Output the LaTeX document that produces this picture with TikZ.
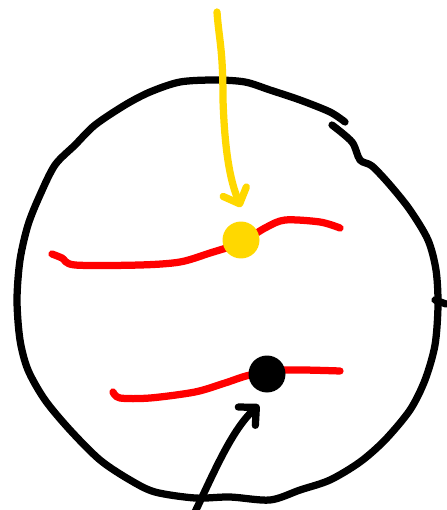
\documentclass[tikz,border=0pt]{standalone}
\usepackage{tikz}
\usetikzlibrary{arrows.meta,calc}
\definecolor{gold}{HTML}{FFD800}
\definecolor{redl}{HTML}{FF0000}
\tikzset{
  ink/.style={line width=0.145cm, line cap=round, line join=round},
  rim/.style={ink, draw=black},
  wire/.style={ink, draw=redl},
  dot/.style={circle, inner sep=0pt, minimum size=0.74cm},
  yarr/.style={ink, draw=gold, -{Straight Barb[length=2.6mm, width=5mm, line cap=round, line join=round]}},
  karr/.style={ink, draw=black, -{Straight Barb[length=2.6mm, width=5mm, line cap=round, line join=round]}},
}

\begin{document}
\begin{tikzpicture}[x=0.02cm, y=-0.02cm]
  \useasboundingbox (0,0) rectangle (446,510);
  % outline
  \draw[rim] plot[smooth, tension=0.5] coordinates {(345,122) (330,112) (300,100) (270,90) (245,82) (215,80) (180,82) (150,92) (125,105) (95,125) (75,145) (55,165) (40,195) (28,225) (20,260) (17,300) (20,340) (28,370) (45,400) (70,430) (100,460) (130,480) (155,492) (195,498) (230,497) (270,500) (300,490) (330,480) (360,462) (385,440) (410,410) (425,380) (435,345) (438,305) (436,270) (428,240) (410,210) (390,185) (372,166) (360,160) (352,142) (332,125)};
  \draw[rim] (435,300) -- (446,304);
  % wires
  \draw[wire] plot[smooth, tension=0.5] coordinates {(52,254) (62,258) (75,265) (140,265) (180,262) (210,253) (240,243) (265,228) (285,220) (320,222) (340,228)};
  \draw[wire] plot[smooth, tension=0.5] coordinates {(113,392) (120,398) (150,398) (195,392) (225,383) (250,375) (285,370) (340,371)};
  % dots
  \node[dot, fill=gold] (ydot) at (241,240) {};
  \node[dot, fill=black] (kdot) at (267,374) {};
  \coordinate (ytop) at (217,12);
  \coordinate (kbot) at (195,512);
  % arrows
  \draw[yarr] (ytop) .. controls (219,40) and (223,48) .. (223,100) .. controls (225,160) and (232,185) .. ($(ydot.north)+(0,-14)$);
  \draw[karr] (kbot) .. controls (215,470) and (232,430) .. ($(kdot.south)+(-8,12)$);
\end{tikzpicture}
\end{document}
